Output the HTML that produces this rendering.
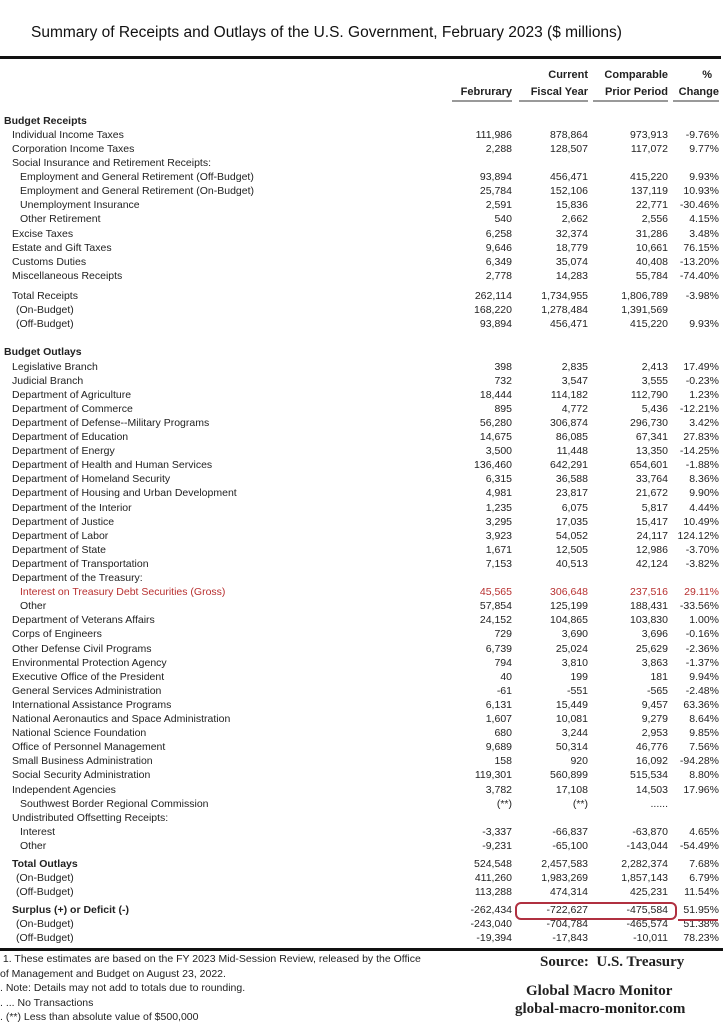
<!DOCTYPE html>
<html><head><meta charset="utf-8"><style>
body{margin:0;background:#fff;}
#p{position:relative;width:723px;height:1024px;overflow:hidden;font-family:"Liberation Sans",Arial,sans-serif;font-size:10.5px;color:#222;}
.r{position:absolute;left:0;width:723px;height:14px;line-height:14px;white-space:nowrap}
.r span{position:absolute}
.a{right:211px}.b{right:135px}.c{right:55px}.d{right:4px}
.bd{font-weight:bold}
.red{color:#b83030}
.h{position:absolute;font-weight:bold;font-size:11px;line-height:14px;white-space:nowrap}
</style></head><body><div id="p">
<div style="position:absolute;left:31px;top:24px;font-size:15.5px;color:#111;white-space:nowrap">Summary of Receipts and Outlays of the U.S. Government, February 2023 ($ millions)</div>
<div style="position:absolute;left:0;top:56px;width:721px;height:3px;background:#111"></div>
<div class="h" style="right:135px;top:68px">Current</div>
<div class="h" style="right:55px;top:68px">Comparable</div>
<div class="h" style="right:11px;top:68px">%</div>
<div class="h" style="right:211px;top:85px">Februrary</div>
<div class="h" style="right:135px;top:85px">Fiscal Year</div>
<div class="h" style="right:55px;top:85px">Prior Period</div>
<div class="h" style="right:4px;top:85px">Change</div>
<div style="position:absolute;left:452px;top:100px;width:60px;height:2px;background:#999"></div>
<div style="position:absolute;left:519px;top:100px;width:69px;height:2px;background:#999"></div>
<div style="position:absolute;left:593px;top:100px;width:75px;height:2px;background:#999"></div>
<div style="position:absolute;left:673px;top:100px;width:46px;height:2px;background:#999"></div>
<div id="rows"></div>
<div style="position:absolute;left:515px;top:902px;width:162px;height:18px;border:2px solid #b03040;border-radius:6px;box-sizing:border-box"></div>
<div style="position:absolute;left:678px;top:919px;width:40px;height:2px;background:#b03040"></div>
<div style="position:absolute;left:0;top:948px;width:723px;height:3px;background:#111"></div>
<div style="position:absolute;left:0;top:952px;font-size:10.5px;line-height:14.5px;white-space:nowrap">&nbsp;1. These estimates are based on the FY 2023 Mid-Session Review, released by the Office<br>of Management and Budget on August 23, 2022.<br>. Note: Details may not add to totals due to rounding.<br>. ... No Transactions<br>. (**) Less than absolute value of $500,000</div>
<div style="position:absolute;left:540px;top:954px;font-family:'Liberation Serif',serif;font-weight:bold;font-size:15px">Source:&nbsp; U.S. Treasury</div>
<div style="position:absolute;left:526px;top:983px;font-family:'Liberation Serif',serif;font-weight:bold;font-size:15px">Global Macro Monitor</div>
<div style="position:absolute;left:515px;top:1001px;font-family:'Liberation Serif',serif;font-weight:bold;font-size:15px">global-macro-monitor.com</div>
</div>
<script>
var R=[
[121,4,"Budget Receipts","","","","",1],
[135,12,"Individual Income Taxes","111,986","878,864","973,913","-9.76%"],
[149,12,"Corporation Income Taxes","2,288","128,507","117,072","9.77%"],
[163,12,"Social Insurance and Retirement Receipts:","","","",""],
[177,20,"Employment and General Retirement (Off-Budget)","93,894","456,471","415,220","9.93%"],
[191,20,"Employment and General Retirement (On-Budget)","25,784","152,106","137,119","10.93%"],
[205,20,"Unemployment Insurance","2,591","15,836","22,771","-30.46%"],
[219,20,"Other Retirement","540","2,662","2,556","4.15%"],
[234,12,"Excise Taxes","6,258","32,374","31,286","3.48%"],
[248,12,"Estate and Gift Taxes","9,646","18,779","10,661","76.15%"],
[262,12,"Customs Duties","6,349","35,074","40,408","-13.20%"],
[276,12,"Miscellaneous Receipts","2,778","14,283","55,784","-74.40%"],
[296,12,"Total Receipts","262,114","1,734,955","1,806,789","-3.98%"],
[310,16,"(On-Budget)","168,220","1,278,484","1,391,569",""],
[324,16,"(Off-Budget)","93,894","456,471","415,220","9.93%"],
[352,4,"Budget Outlays","","","","",1]];
var O=[["Legislative Branch","398","2,835","2,413","17.49%"],["Judicial Branch","732","3,547","3,555","-0.23%"],["Department of Agriculture","18,444","114,182","112,790","1.23%"],["Department of Commerce","895","4,772","5,436","-12.21%"],["Department of Defense--Military Programs","56,280","306,874","296,730","3.42%"],["Department of Education","14,675","86,085","67,341","27.83%"],["Department of Energy","3,500","11,448","13,350","-14.25%"],["Department of Health and Human Services","136,460","642,291","654,601","-1.88%"],["Department of Homeland Security","6,315","36,588","33,764","8.36%"],["Department of Housing and Urban Development","4,981","23,817","21,672","9.90%"],["Department of the Interior","1,235","6,075","5,817","4.44%"],["Department of Justice","3,295","17,035","15,417","10.49%"],["Department of Labor","3,923","54,052","24,117","124.12%"],["Department of State","1,671","12,505","12,986","-3.70%"],["Department of Transportation","7,153","40,513","42,124","-3.82%"],["Department of the Treasury:","","","",""],["Interest on Treasury Debt Securities (Gross)","45,565","306,648","237,516","29.11%",20,"red"],["Other","57,854","125,199","188,431","-33.56%",20],["Department of Veterans Affairs","24,152","104,865","103,830","1.00%"],["Corps of Engineers","729","3,690","3,696","-0.16%"],["Other Defense Civil Programs","6,739","25,024","25,629","-2.36%"],["Environmental Protection Agency","794","3,810","3,863","-1.37%"],["Executive Office of the President","40","199","181","9.94%"],["General Services Administration","-61","-551","-565","-2.48%"],["International Assistance Programs","6,131","15,449","9,457","63.36%"],["National Aeronautics and Space Administration","1,607","10,081","9,279","8.64%"],["National Science Foundation","680","3,244","2,953","9.85%"],["Office of Personnel Management","9,689","50,314","46,776","7.56%"],["Small Business Administration","158","920","16,092","-94.28%"],["Social Security Administration","119,301","560,899","515,534","8.80%"],["Independent Agencies","3,782","17,108","14,503","17.96%"],["Southwest Border Regional Commission","(**)","(**)","......","",20],["Undistributed Offsetting Receipts:","","","",""],["Interest","-3,337","-66,837","-63,870","4.65%",20],["Other","-9,231","-65,100","-143,044","-54.49%",20]];
O.forEach(function(o,i){R.push([366.5+i*14.1,o[5]||12,o[0],o[1],o[2],o[3],o[4],0,o[6]||""]);});
R.push([864,12,"Total Outlays","524,548","2,457,583","2,282,374","7.68%",1]);
R.push([878,16,"(On-Budget)","411,260","1,983,269","1,857,143","6.79%"]);
R.push([892,16,"(Off-Budget)","113,288","474,314","425,231","11.54%"]);
R.push([910,12,"Surplus (+) or Deficit (-)","-262,434","-722,627","-475,584","51.95%",1]);
R.push([924,16,"(On-Budget)","-243,040","-704,784","-465,574","51.38%"]);
R.push([938,16,"(Off-Budget)","-19,394","-17,843","-10,011","78.23%"]);
var h="";
R.forEach(function(r){h+='<div class="r '+(r[8]||"")+'" style="top:'+(r[0]-7)+'px"><span style="left:'+r[1]+'px" class="'+(r[7]?"bd":"")+'">'+r[2]+'</span><span class="a">'+r[3]+'</span><span class="b">'+r[4]+'</span><span class="c">'+r[5]+'</span><span class="d">'+r[6]+'</span></div>';});
document.getElementById("rows").outerHTML=h;
</script>
</body></html>
